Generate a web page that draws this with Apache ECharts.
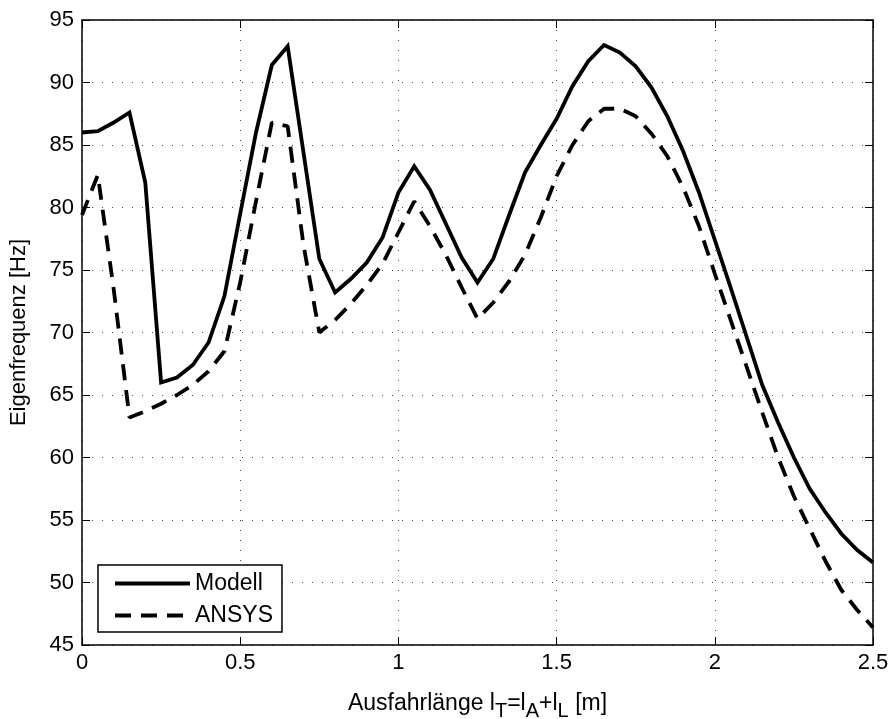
<!DOCTYPE html>
<html><head><meta charset="utf-8">
<script src="https://cdn.jsdelivr.net/npm/echarts@6/dist/echarts.min.js"></script>
<style>html,body{margin:0;padding:0;background:#fff}#c{width:895px;height:719px}</style>
</head><body><div id="c"></div>
<script>
const xValues = [0,0.05,0.1,0.15,0.2,0.25,0.3,0.35,0.4,0.45,0.5,0.55,0.6,0.65,0.7,0.75,0.8,0.85,0.9,0.95,1.0,1.05,1.1,1.15,1.2,1.25,1.3,1.35,1.4,1.45,1.5,1.55,1.6,1.65,1.7,1.75,1.8,1.85,1.9,1.95,2.0,2.05,2.1,2.15,2.2,2.25,2.3,2.35,2.4,2.45,2.5];
const modell = [86.0,86.1,86.8,87.6,82.0,66.0,66.4,67.4,69.2,72.9,79.5,86.0,91.4,92.9,84.4,75.9,73.2,74.3,75.6,77.6,81.2,83.3,81.4,78.7,76.0,74.0,75.9,79.4,82.8,85.0,87.1,89.7,91.7,93.0,92.4,91.3,89.6,87.3,84.5,81.2,77.4,73.6,69.7,65.8,62.8,60.0,57.5,55.6,53.9,52.6,51.6];
const ansys = [79.4,82.6,73.5,63.2,63.7,64.3,65.0,65.8,66.9,68.5,74.0,80.5,86.8,86.5,77.0,70.0,71.0,72.3,73.8,75.5,78.0,80.5,78.5,76.2,73.6,71.1,72.4,74.1,76.2,79.2,82.5,85.0,86.9,87.9,87.9,87.3,85.9,84.1,81.6,78.5,74.7,71.0,67.3,63.6,60.0,56.9,54.3,51.7,49.4,47.8,46.4];
const seriesNames = ['Modell','ANSYS'];
const yTicks = {min:45,max:95,step:5};
const xTicks = {min:0,max:2.5,step:0.5};

const font = 'Liberation Sans, Arial, sans-serif';
const chart = echarts.init(document.getElementById('c'));
const gridLine = {show:true,lineStyle:{color:'#444',type:[1,9],width:1}};
const axisLine = {show:true,onZero:false,lineStyle:{color:'#000',width:1.5}};
const tick = {show:true,inside:true,length:8,lineStyle:{color:'#000',width:1}};
const lbl = {color:'#000',fontFamily:font,fontSize:22};
chart.setOption({
  animation:false,
  backgroundColor:'#fff',
  grid:{left:82,right:22,top:20,bottom:74,containLabel:false,outerBoundsMode:'none'},
  legend:{
    left:98,top:565,orient:'vertical',
    data:seriesNames,
    itemWidth:75,itemHeight:14,itemGap:9,
    borderColor:'#000',borderWidth:1.5,borderRadius:0,
    padding:[7,9,5,15],
    backgroundColor:'#fff',
    itemStyle:{opacity:0},
    lineStyle:{width:4},
    textStyle:{color:'#000',fontFamily:font,fontSize:23}
  },
  xAxis:[{
    type:'value',min:xTicks.min,max:xTicks.max,interval:xTicks.step,
    axisLine:axisLine,axisTick:tick,splitLine:gridLine,
    axisLabel:Object.assign({margin:7,formatter:v=>String(v)},lbl),
    name:'Ausfahrlänge l{s|T}=l{s|A}+l{s|L} [m]',
    nameLocation:'middle',nameGap:42,
    nameTextStyle:{color:'#000',fontFamily:font,fontSize:23,
      rich:{s:{fontSize:20,fontFamily:font,color:'#000',padding:[14,0,0,0]}}}
  },{
    type:'value',position:'top',min:xTicks.min,max:xTicks.max,interval:xTicks.step,
    axisLine:axisLine,axisTick:tick,splitLine:{show:false},axisLabel:{show:false}
  }],
  yAxis:[{
    type:'value',min:yTicks.min,max:yTicks.max,interval:yTicks.step,
    axisLine:axisLine,axisTick:tick,splitLine:gridLine,
    axisLabel:Object.assign({margin:8},lbl),
    name:'Eigenfrequenz [Hz]',nameLocation:'middle',nameGap:52,nameRotate:90,
    nameTextStyle:{color:'#000',fontFamily:font,fontSize:22}
  },{
    type:'value',position:'right',min:yTicks.min,max:yTicks.max,interval:yTicks.step,
    axisLine:axisLine,axisTick:tick,splitLine:{show:false},axisLabel:{show:false}
  }],
  series:[{
    name:seriesNames[0],type:'line',showSymbol:false,symbol:'none',
    data:xValues.map((x,i)=>[x,modell[i]]),
    lineStyle:{color:'#000',width:3.8,join:'miter'},itemStyle:{color:'#000'}
  },{
    name:seriesNames[1],type:'line',showSymbol:false,symbol:'none',
    data:xValues.map((x,i)=>[x,ansys[i]]),
    lineStyle:{color:'#000',width:3.8,type:[16,10]},itemStyle:{color:'#000'}
  }]
});
</script></body></html>
